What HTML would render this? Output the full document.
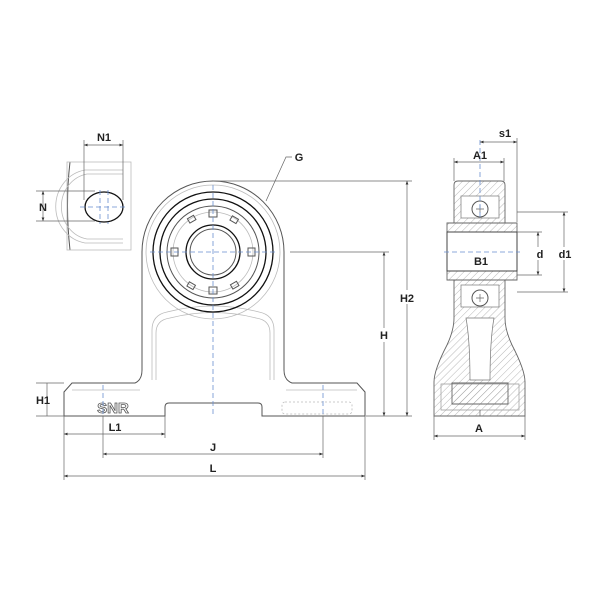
<!DOCTYPE html>
<html><head><meta charset="utf-8"><style>
html,body{margin:0;padding:0;background:#fff}
svg{display:block}
text{font-family:"Liberation Sans",sans-serif;font-weight:bold;font-size:11px;fill:#222;text-anchor:middle}
.d{stroke:#666;stroke-width:0.7;fill:none}
.o{stroke:#555;stroke-width:1;fill:none}
.g{stroke:#bbb;stroke-width:0.8;fill:none}
.k{stroke:#111;stroke-width:1.3;fill:none}
.c{stroke:#6a8fd0;stroke-width:0.8;fill:none;stroke-dasharray:5 3}
.h{stroke:#666;stroke-width:0.9;fill:url(#hatch)}
</style></head><body>
<svg width="600" height="600" viewBox="0 0 600 600" xmlns="http://www.w3.org/2000/svg">
<defs>
<pattern id="hatch" width="5" height="5" patternUnits="userSpaceOnUse" patternTransform="rotate(45)">
<line x1="0" y1="0" x2="0" y2="5" stroke="#999" stroke-width="0.7"/></pattern>
<marker id="a" markerWidth="6" markerHeight="6" refX="5" refY="3" orient="auto-start-reverse"><path d="M0,1 L5,3 L0,5z" fill="#333"/></marker>
</defs>

<!-- small slot view -->
<path class="o" d="M70,162 Q65,205 70,250"/>
<rect class="g" x="67" y="162" width="64" height="88"/>
<path class="g" d="M123,170 H85 A35,37 0 0 0 85,243 H123"/>
<path class="g" d="M123,174 H87 A31,33 0 0 0 87,239 H123"/>
<ellipse class="k" cx="104" cy="207" rx="19" ry="15"/>
<line class="c" x1="80" y1="207" x2="128" y2="207"/>
<line class="c" x1="100" y1="190" x2="100" y2="224"/>
<line class="c" x1="108" y1="190" x2="108" y2="224"/>
<line class="d" x1="84" y1="140" x2="84" y2="200"/><line class="d" x1="123" y1="140" x2="123" y2="200"/>
<line class="d" x1="84" y1="145" x2="123" y2="145" marker-start="url(#a)" marker-end="url(#a)"/>
<text x="104" y="141">N1</text>
<line class="d" x1="36" y1="191" x2="95" y2="191"/><line class="d" x1="36" y1="221" x2="95" y2="221"/>
<line class="d" x1="43" y1="191" x2="43" y2="221" marker-start="url(#a)" marker-end="url(#a)"/>
<text x="43" y="211">N</text>

<!-- front view -->
<path class="o" d="M64,416 V392 L72,383 H135 Q142,380 142,370 V252 A71,71 0 0 1 284,252 V370 Q284,380 292,383 H357 L365,392 V416 H262 V407 Q262,403 258,403 H169 Q165,403 165,407 V416 Z"/>
<path class="g" d="M152,380 V330 Q152,315 167,312 Q213,300 259,312 Q274,315 274,330 V380"/>
<path class="g" d="M156,380 V333 Q156,320 170,318 Q213,307 256,318 Q270,320 270,333 V380"/>
<line class="g" x1="72" y1="390" x2="140" y2="390"/><line class="g" x1="286" y1="390" x2="357" y2="390"/>
<rect class="g" x="282" y="402" width="70" height="12" rx="3" style="stroke-dasharray:2 2"/>
<circle class="g" cx="213" cy="252" r="67"/>
<circle class="k" cx="213" cy="252" r="60"/>
<circle class="k" cx="213" cy="252" r="53"/>
<circle class="o" cx="213" cy="252" r="46"/>
<circle class="g" cx="213" cy="252" r="40"/>
<circle class="k" cx="213" cy="252" r="27"/>
<circle class="o" cx="213" cy="252" r="23"/>
<g class="o" stroke-width="0.8">
<rect x="209" y="210" width="8" height="7"/><rect x="209" y="287" width="8" height="7"/>
<rect x="171" y="248" width="7" height="8"/><rect x="248" y="248" width="7" height="8"/>
<rect x="188" y="217" width="7" height="5" transform="rotate(-30 191 219)"/><rect x="231" y="217" width="7" height="5" transform="rotate(30 234 219)"/>
<rect x="188" y="283" width="7" height="5" transform="rotate(30 191 285)"/><rect x="231" y="283" width="7" height="5" transform="rotate(-30 234 285)"/>
</g>
<text x="113" y="413" style="font-size:15px;fill:#fff;stroke:#555;stroke-width:0.8">SNR</text>
<line class="c" x1="213" y1="185" x2="213" y2="416"/>
<line class="c" x1="150" y1="252" x2="276" y2="252"/>
<line class="c" x1="103" y1="385" x2="103" y2="414"/><line class="c" x1="323" y1="385" x2="323" y2="414"/>

<!-- G leader -->
<path class="d" d="M292,157 H286 L266,201"/>
<text x="299" y="161">G</text>

<!-- right-side dims of front -->
<line class="d" x1="213" y1="181" x2="412" y2="181"/>
<line class="d" x1="290" y1="252" x2="389" y2="252"/>
<line class="d" x1="366" y1="416" x2="412" y2="416"/>
<line class="d" x1="407" y1="181" x2="407" y2="416" marker-start="url(#a)" marker-end="url(#a)"/>
<line class="d" x1="384" y1="252" x2="384" y2="416" marker-start="url(#a)" marker-end="url(#a)"/>
<rect x="398" y="290" width="18" height="14" fill="#fff"/><text x="407" y="302">H2</text>
<rect x="378" y="328" width="12" height="14" fill="#fff"/><text x="384" y="339">H</text>
<!-- H1 -->
<line class="d" x1="36" y1="383" x2="64" y2="383"/><line class="d" x1="36" y1="416" x2="64" y2="416"/>
<line class="d" x1="47" y1="383" x2="47" y2="416"/>
<text x="43" y="404">H1</text>
<!-- bottom dims -->
<line class="d" x1="64" y1="416" x2="64" y2="480"/><line class="d" x1="365" y1="416" x2="365" y2="480"/>
<line class="d" x1="165" y1="416" x2="165" y2="438"/>
<line class="d" x1="103" y1="416" x2="103" y2="458"/><line class="d" x1="323" y1="416" x2="323" y2="458"/>
<line class="d" x1="64" y1="434" x2="165" y2="434" marker-start="url(#a)" marker-end="url(#a)"/>
<line class="d" x1="103" y1="454" x2="323" y2="454" marker-start="url(#a)" marker-end="url(#a)"/>
<line class="d" x1="64" y1="476" x2="365" y2="476" marker-start="url(#a)" marker-end="url(#a)"/>
<text x="115" y="431">L1</text><text x="213" y="451">J</text><text x="213" y="472">L</text>

<!-- side view -->
<path class="h" d="M454,185 Q454,181 458,181 H501 Q505,181 505,185 V223 H454 Z"/>
<path class="h" d="M454,280 H505 V318 Q505,330 512,345 Q525,370 525,382 V416 H434 V382 Q434,370 447,345 Q454,330 454,318 Z"/>
<rect x="461" y="196" width="38" height="22" fill="#fff" stroke="#777" stroke-width="0.7"/>
<rect x="461" y="285" width="38" height="22" fill="#fff" stroke="#777" stroke-width="0.7"/>
<circle cx="480" cy="209" r="8" fill="#fff" stroke="#555"/><circle cx="480" cy="298" r="8" fill="#fff" stroke="#555"/>
<path class="d" d="M476,209h8M480,205v8M476,298h8M480,294v8" stroke="#6a8fd0"/>
<path d="M466,318 H494 Q490,340 490,380 H470 Q470,340 466,318 Z" fill="#fff" stroke="#777" stroke-width="0.7"/>
<path d="M441,384 H519 V410 H441 Z" fill="none" stroke="#999" stroke-width="0.7"/>
<path class="h" d="M452,383 H508 V404 H452 Z"/>
<path class="h" d="M447,223 H517 V232 H447 Z"/>
<path class="h" d="M447,271 H517 V280 H447 Z"/>
<rect x="447" y="232" width="70" height="39" fill="#fff" stroke="#444" stroke-width="1"/>
<line class="c" x1="444" y1="252" x2="520" y2="252"/>
<line class="c" x1="480" y1="140" x2="480" y2="220"/>
<line class="d" x1="480" y1="416" x2="480" y2="410"/>
<!-- side dims -->
<line class="d" x1="517" y1="138" x2="517" y2="222"/>
<line class="d" x1="480" y1="142" x2="517" y2="142" marker-start="url(#a)" marker-end="url(#a)"/>
<text x="505" y="137">s1</text>
<line class="d" x1="454" y1="158" x2="454" y2="181"/><line class="d" x1="504" y1="158" x2="504" y2="181"/>
<line class="d" x1="454" y1="162" x2="504" y2="162" marker-start="url(#a)" marker-end="url(#a)"/>
<text x="480" y="159">A1</text>
<line class="d" x1="517" y1="212" x2="568" y2="212"/><line class="d" x1="517" y1="292" x2="568" y2="292"/>
<line class="d" x1="517" y1="232" x2="542" y2="232"/><line class="d" x1="517" y1="275" x2="542" y2="275"/>
<line class="d" x1="538" y1="232" x2="538" y2="275" marker-start="url(#a)" marker-end="url(#a)"/>
<line class="d" x1="564" y1="212" x2="564" y2="292" marker-start="url(#a)" marker-end="url(#a)"/>
<rect x="533" y="247" width="12" height="13" fill="#fff"/><text x="540" y="258">d</text>
<rect x="556" y="247" width="18" height="13" fill="#fff"/><text x="565" y="258">d1</text>
<text x="481" y="265">B1</text>
<line class="d" x1="434" y1="416" x2="434" y2="440"/><line class="d" x1="525" y1="416" x2="525" y2="440"/>
<line class="d" x1="434" y1="436" x2="525" y2="436" marker-start="url(#a)" marker-end="url(#a)"/>
<text x="479" y="432">A</text>
</svg>
</body></html>
